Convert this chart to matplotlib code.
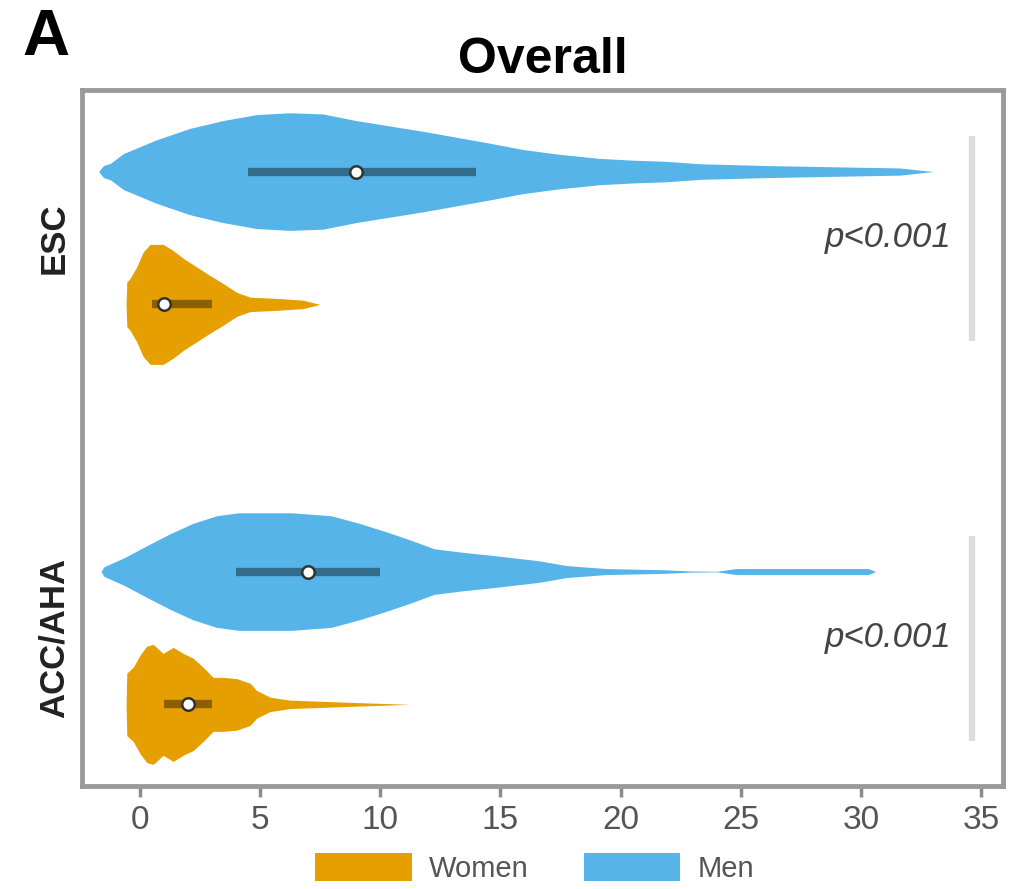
import matplotlib
matplotlib.use("Agg")
import matplotlib.pyplot as plt
from matplotlib.patches import Patch
import numpy as np

plt.rcParams['font.family'] = ['Liberation Sans', 'DejaVu Sans']

# categories (top to bottom) and groups
categories = ['ESC', 'ACC/AHA']
groups = ['Men', 'Women']
colors = {'Women': '#E69F00', 'Men': '#56B4E9'}
p_labels = ['p<0.001', 'p<0.001']

# violin outlines: x value and relative half-width (max = 1)
esc_men_x = [-1.7, -1.5, -1.2, -0.67, 0.71, 2.1, 3.47, 4.87, 6.26, 7.63, 9.0, 10.4, 11.8,
             13.2, 14.6, 15.9, 17.4, 19.1, 20.5, 21.9, 23.3, 26.1, 28.8, 31.6, 33.0]
esc_men_w = [0, 0.10, 0.14, 0.30, 0.53, 0.72, 0.85, 0.95, 0.98, 0.96, 0.85, 0.76, 0.67,
             0.57, 0.47, 0.37, 0.29, 0.22, 0.19, 0.17, 0.13, 0.10, 0.08, 0.06, 0]

esc_women_x = [-0.56, -0.53, -0.4, -0.12, 0.15, 0.44, 0.98, 1.39, 1.81, 2.39, 2.93, 3.47,
               4.04, 4.6, 5.7, 6.8, 7.5]
esc_women_w = [0, 0.37, 0.43, 0.62, 0.87, 1.0, 1.0, 0.90, 0.77, 0.62, 0.48, 0.35,
               0.20, 0.12, 0.10, 0.07, 0]

acc_men_x = [-1.6, -1.48, -0.64, 0.3, 1.27, 2.2, 3.2, 4.14, 6.3, 7.97, 9.17, 10.35, 11.3,
             12.25, 13.45, 14.66, 16.6, 17.75, 19.4, 21.8, 22.9, 24.0, 24.8, 30.3, 30.6]
acc_men_w = [0, 0.08, 0.23, 0.43, 0.63, 0.80, 0.93, 0.98, 0.98, 0.93, 0.80, 0.65, 0.52,
             0.38, 0.32, 0.27, 0.18, 0.10, 0.05, 0.03, 0.01, 0.005, 0.05, 0.05, 0]

acc_women_x = [-0.56, -0.53, -0.26, 0.02, 0.3, 0.57, 0.98, 1.4, 1.81, 2.23, 2.64, 3.06,
               3.47, 4.04, 4.6, 4.87, 5.43, 6.26, 7.63, 9.0, 11.25]
acc_women_w = [0, 0.52, 0.62, 0.82, 0.97, 1.0, 0.85, 0.95, 0.85, 0.77, 0.62, 0.45,
               0.45, 0.43, 0.35, 0.23, 0.12, 0.07, 0.05, 0.03, 0]

# inner box: q1, median, q3
esc_men_box = [4.5, 9.0, 14.0]
esc_women_box = [0.5, 1.0, 3.0]
acc_men_box = [4.0, 7.0, 10.0]
acc_women_box = [1.0, 2.0, 3.0]

violins = [
    (0, 'Men', esc_men_x, esc_men_w, esc_men_box),
    (0, 'Women', esc_women_x, esc_women_w, esc_women_box),
    (1, 'Men', acc_men_x, acc_men_w, acc_men_box),
    (1, 'Women', acc_women_x, acc_women_w, acc_women_box),
]

fig = plt.figure(figsize=(10.18, 8.89), dpi=100)
ax = fig.add_axes([0.0806, 0.1159, 0.9047, 0.7829])

offset = {'Men': -0.166, 'Women': 0.166}
half = 0.15
for cat, grp, xs, ws, box in violins:
    yc = cat + offset[grp]
    xs = np.array(xs)
    ws = np.array(ws) * half
    ax.fill_between(xs, yc - ws, yc + ws, color=colors[grp], lw=0, zorder=2)
    ax.plot([box[0], box[2]], [yc, yc], color='black', alpha=0.4, lw=6,
            solid_capstyle='butt', zorder=3)
    ax.plot(box[1], yc, 'o', ms=9, mfc='white', mec='#333333', mew=1.8, zorder=4)

# significance bars and p-values
for i, p in enumerate(p_labels):
    ax.plot([34.6, 34.6], [i - 0.255, i + 0.257], color='#dddddd', lw=4.5,
            solid_capstyle='butt', zorder=1)
    ax.text(33.78, i, p, ha='right', va='center', fontsize=25, style='italic',
            color='#444444')

ax.set_xlim(-2.39, 35.9)
ax.set_ylim(1.37, -0.37)
ax.set_xticks([0, 5, 10, 15, 20, 25, 30, 35])
ax.tick_params(axis='x', labelsize=24, labelcolor='#555555', color='#8c8c8c',
               length=8, width=2.5, pad=6)
ax.set_yticks([0, 1])
ax.set_yticklabels(categories, rotation=90, va='center', fontsize=25,
                   fontweight='bold', color='#222222',
                   family=['Liberation Sans Narrow', 'Liberation Sans'])
ax.tick_params(axis='y', length=0, pad=8)
for s in ax.spines.values():
    s.set_color('#9a9a9a')
    s.set_linewidth(3.5)

ax.set_title('Overall', fontsize=36, fontweight='bold', pad=12)
fig.text(22 / 1018, 1 - 55 / 889, 'A', fontsize=47, fontweight='bold')

handles = [Patch(facecolor=colors['Women'], label='Women'),
           Patch(facecolor=colors['Men'], label='Men')]
fig.legend(handles=handles, loc='center', bbox_to_anchor=(0.5255, 0.024), ncol=2,
           frameon=False, fontsize=21, labelcolor='#555555', handlelength=3.3,
           handleheight=1.1, handletextpad=0.6, columnspacing=1.9)

fig.savefig('out.png', dpi=100)
